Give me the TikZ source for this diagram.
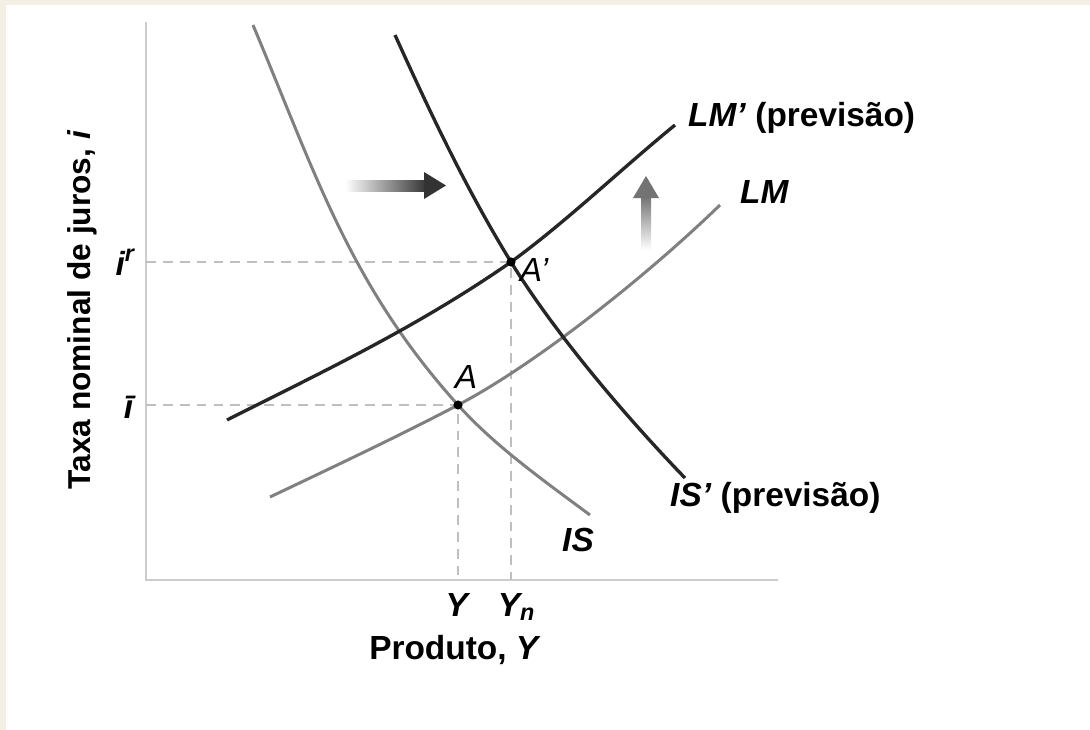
\documentclass[tikz,border=0pt]{standalone}
\usepackage{fontspec}
\setmainfont{Liberation Sans}
\definecolor{paper}{HTML}{F4EFE4}

\begin{document}
\begin{tikzpicture}[
  x=0.01cm, y=-0.01cm,
  axis/.style={draw=black!20, line width=0.6pt},
  guide/.style={draw=black!25, line width=0.5pt, dash pattern=on 2.8pt off 2pt},
  old/.style={draw=black!50, line width=0.85pt},
  new/.style={draw=black!85, line width=0.95pt},
  lbl/.style={font=\fontsize{9.5}{11}\selectfont\bfseries, inner sep=1pt},
  pt/.style={circle, fill=black, inner sep=0pt, minimum size=2.6pt}
]
  \useasboundingbox (0,0) rectangle (1090,730);
  \fill[paper] (0,0) rectangle (1090,730);
  \fill[white] (6,5) rectangle (1090,730);

  % axes
  \coordinate (O) at (146,580);
  \coordinate (ytop) at (146,22);
  \coordinate (xend) at (778,580);
  \draw[axis] (ytop) -- (O) -- (xend);

  % equilibria
  \coordinate (A) at (458,405);
  \coordinate (Ap) at (511,262);
  \foreach \p in {A,Ap}
    \draw[guide] (\p -| O) -- (\p) -- (\p |- O);

  % curves
  \draw[old] (253,25) .. controls (316,175) and (350,285) .. (A)
             .. controls (494,445) and (540,478) .. (590,515);
  \draw[old] (270,497) .. controls (333,467) and (395,438) .. (A)
             .. controls (538,363) and (650,273) .. (720,205);
  \draw[new] (395,35) .. controls (429,110) and (465,187) .. (Ap)
             .. controls (554,332) and (625,416) .. (685,478);
  \draw[new] (227,420) .. controls (322,372) and (416,328) .. (Ap)
             .. controls (566,222) and (620,170) .. (675,125);

  \foreach \p in {A,Ap}
    \node[pt] at (\p) {};

  % shift arrows
  \shade[left color=white, right color=black!80] (345,180) rectangle (427,191);
  \fill[black!80] (424,172) -- (446,185.5) -- (424,199) -- cycle;
  \shade[top color=black!55, bottom color=white] (641,196) rectangle (651,250);
  \fill[black!55] (633,198) -- (646,176) -- (659,198) -- cycle;

  % labels
  \node[lbl, anchor=west] (lmp) at (684,118) {\textit{LM'} (previsão)};
  \node[lbl, anchor=west] (lm) at (736,192) {\textit{LM}};
  \node[lbl, anchor=west] (isp) at (666,498) {\textit{IS'} (previsão)};
  \node[lbl, anchor=west] (is) at (558,540) {\textit{IS}};
  \node[lbl, font=\fontsize{9.5}{11}\selectfont\itshape] (la) at (466,377) {A};
  \node[lbl, font=\fontsize{9.5}{11}\selectfont\itshape] (lap) at (534,270) {A'};
  \node[lbl, anchor=east] (ir) at (140,262) {\textit{i\textsuperscript{r}}};
  \node[lbl, anchor=east] (ib) at (140,407) {\textit{ī}};
  \node[lbl] (y) at (458,605) {\textit{Y}};
  \node[lbl] (yn) at (517,607) {\textit{Y\textsubscript{n}}};
  \node[lbl] (xlab) at (455,650) {Produto, \textit{Y}};
  \node[lbl, rotate=90, font=\fontsize{9}{11}\selectfont\bfseries] (ylab) at (82,310) {Taxa nominal de juros, \textit{i}};
\end{tikzpicture}
\end{document}
